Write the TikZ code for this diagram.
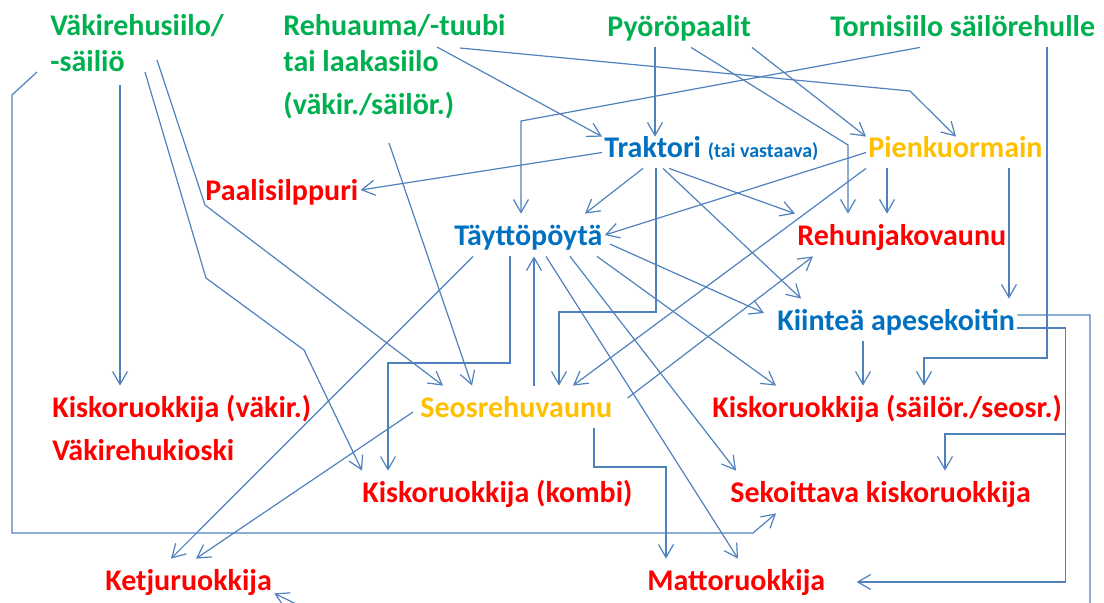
\documentclass[tikz,border=0pt]{standalone}
\usepackage{fontspec}
\setmainfont{Carlito}
\usepackage{tikz}
\usetikzlibrary{arrows.meta, positioning, calc}
\definecolor{srcgreen}{RGB}{0,176,80}
\definecolor{machblue}{RGB}{0,112,192}
\definecolor{feedred}{RGB}{255,0,0}
\definecolor{wagonamber}{RGB}{255,192,0}
\definecolor{linkblue}{RGB}{79,129,189}
\tikzset{
  lbl/.style={font=\fontsize{15}{18}\selectfont\bfseries, anchor=base west,
    inner xsep=1pt, inner ysep=5.5pt, text height=10pt, text depth=0pt},
  lblhi/.style={lbl, inner ysep=0pt, text depth=5.5pt},
  src/.style={font=\fontsize{15}{18}\selectfont\bfseries, text=srcgreen,
    align=left, anchor=north west, inner sep=0pt},
  arrow/.style={-{Straight Barb[length=6.5pt, width=7.5pt]}, line width=0.6pt, color=linkblue}
}
\begin{document}
\begin{tikzpicture}[x=0.5pt, y=-0.5pt]
  \useasboundingbox (0,0) rectangle (1104,602);
  \clip (0,0) rectangle (1104,602);

  % Storages on top row
  \node[src] (VS) at (50,14) {Väkirehusiilo/\\-säiliö};
  \node[src] (RA) at (283,14) {Rehuauma/-tuubi\\tai laakasiilo\\[3.5pt](väkir./säilör.)};
  \node[lbl, text=srcgreen] (PP) at (605,36) {Pyöröpaalit};
  \node[lbl, text=srcgreen] (TS) at (828,36) {Tornisiilo säilörehulle};

  % Machines
  \node[lblhi, text=machblue] (T) at (602,157) {Traktori {\fontsize{10}{11}\selectfont(tai vastaava)}};
  \node[lblhi, text=wagonamber] (PK) at (866,157) {Pienkuormain};
  \node[lbl, text=machblue] (TP) at (452,245) {Täyttöpöytä};
  \node[lbl, text=machblue] (KA) at (775,330) {Kiinteä apesekoitin};
  \node[lbl, text=wagonamber] (SV) at (418,417) {Seosrehuvaunu};

  % Feeders
  \node[lbl, text=feedred] (PS) at (203,200) {Paalisilppuri};
  \node[lbl, text=feedred] (RJ) at (795,245) {Rehunjakovaunu};
  \node[lbl, text=feedred] (KV) at (50,417) {Kiskoruokkija (väkir.)};
  \node[lbl, text=feedred] (VK) at (50,460) {Väkirehukioski};
  \node[lbl, text=feedred] (KS) at (710,417) {Kiskoruokkija (säilör./seosr.)};
  \node[lbl, text=feedred] (KK) at (360,502) {Kiskoruokkija (kombi)};
  \node[lbl, text=feedred] (SK) at (728,502) {Sekoittava kiskoruokkija};
  \node[lbl, text=feedred] (KR) at (103,590) {Ketjuruokkija};
  \node[lbl, text=feedred] (MR) at (645,590) {Mattoruokkija};

  % From the concentrate silo
  \draw[arrow] ($(VS.north west)+(-13,58)$) -- ++(-25,23) -- (12,533) -- (753,533) -- (SK.south -| 776,0);
  \draw[arrow] ($(VS.north west)+(70,71)$) -- (KV.north -| 120,0);
  \draw[arrow] ($(VS.north west)+(95,58)$) -- (206,278) -- (304,350) -- (KK.north -| 362,0);
  \draw[arrow] ($(VS.north west)+(107,46)$) -- (205,205) -- (SV.north -| 443,0);

  % From the bunker silo
  \draw[arrow] ($(RA.north west)+(154,33)$) -- (T.north west);
  \draw[arrow] ($(RA.north west)+(177,34)$) -- (910,91) -- (PK.north -| 956,0);
  \draw[arrow] ($(RA.north west)+(106,129)$) -- (SV.north -| 472,0);

  % From the round bales
  \draw[arrow] (PP.south -| 655,0) -- (T.north -| 655,0);
  \draw[arrow] (PP.south -| 691,0) -- (848,145) -- (RJ.north -| 848,0);
  \draw[arrow] (PP.south -| 752,0) -- (PK.north west);

  % From the tower silo
  \draw[arrow] (TS.south -| 920,0) -- (521,121) -- (TP.north -| 521,0);
  \draw[arrow] (TS.south -| 1047,0) |- (924,358) -- (KS.north -| 924,0);

  % From the tractor
  \draw[arrow] (T.west) -- (PS.east);
  \draw[arrow] (T.south -| 643,0) -- (TP.north -| 585,0);
  \draw[arrow] (T.south -| 656,0) |- (559,312) -- (SV.north -| 559,0);
  \draw[arrow] (T.south -| 663,0) -- (KA.north -| 801,0);
  \draw[arrow] (T.south -| 669,0) -- (RJ.north west);

  % From the small loader
  \draw[arrow] (PK.west) -- (TP.east);
  \draw[arrow] (PK.south west) -- (SV.north -| 573,0);
  \draw[arrow] (PK.south -| 887,0) -- (RJ.north -| 887,0);
  \draw[arrow] (PK.south -| 1009,0) -- (KA.north -| 1009,0);

  % From the filling table
  \draw[arrow] (TP.south -| 473,0) -- (KR.north -| 171,0);
  \draw[arrow] (TP.south -| 510,0) |- (388,363) -- (KK.north -| 388,0);
  \draw[arrow] (TP.south -| 546,0) -- (MR.north -| 738,0);
  \draw[arrow] (TP.south -| 570,0) -- (SK.north -| 736,0);
  \draw[arrow] (TP.south -| 597,0) -- (KS.north -| 776,0);
  \draw[arrow] ($(TP.east)+(5,9)$) -- ($(KA.west)+(-11,-7)$);

  % From the mixer wagon
  \draw[arrow] (SV.north -| 534,0) -- (TP.south -| 534,0);
  \draw[arrow] ($(SV.west)+(-5,5)$) -- (KR.north -| 196,0);
  \draw[arrow] ($(SV.east)+(13,-9)$) -- (RJ.south -| 813,0);
  \draw[arrow] (SV.south -| 594,0) |- (666,467) -- (MR.north -| 666,0);

  % From the stationary mixer
  \draw[arrow] (KA.south -| 863,0) -- (KS.north -| 863,0);
  \draw[arrow] ($(KA.east)+(0,8)$) -- ++(48,0) |- (945,434) -- (SK.north -| 945,0);
  \draw[arrow] ($(KA.east)+(0,8)$) -- ++(48,0) |- ($(MR.east)+(29,2)$);
  \draw[arrow] ($(KA.east)+(0,-5)$) -| (1090,625) -- (340,625) -- ($(KR.south east)+(0,-8)$);
\end{tikzpicture}
\end{document}
